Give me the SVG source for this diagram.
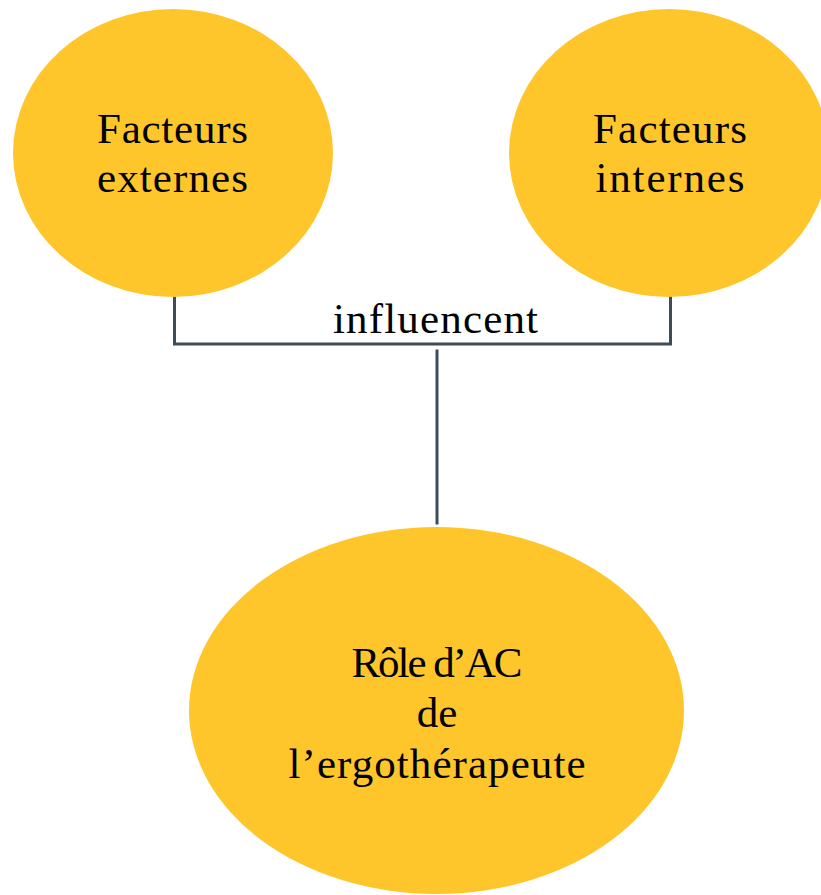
<svg xmlns="http://www.w3.org/2000/svg" width="821" height="895" viewBox="0 0 821 895">
<style>
.node{fill:#fec62b;}
.t{font-family:"Liberation Serif","Times New Roman",serif;font-size:43px;fill:#000;text-anchor:middle;}
.c{fill:none;stroke:#3c4c59;stroke-width:3;stroke-linecap:square;}
</style>
<rect width="821" height="895" fill="#fff"/>
<g id="connectors">
<polyline class="c" points="174.5,298 174.5,344 670.5,344 670.5,297"/>
<line class="c" x1="437" y1="351" x2="437" y2="523"/>
<text class="t" x="435.5" y="333" textLength="205" lengthAdjust="spacing">influencent</text>
</g>
<g id="facteurs-externes">
<ellipse class="node" cx="173" cy="153" rx="160" ry="144"/>
<text class="t" x="172.5" y="143" textLength="151" lengthAdjust="spacing">Facteurs</text>
<text class="t" x="172.5" y="192" textLength="151" lengthAdjust="spacing">externes</text>
</g>
<g id="facteurs-internes">
<ellipse class="node" cx="669" cy="153" rx="160" ry="144"/>
<text class="t" x="670" y="143" textLength="154" lengthAdjust="spacing">Facteurs</text>
<text class="t" x="670" y="192" textLength="149" lengthAdjust="spacing">internes</text>
</g>
<g id="role">
<ellipse class="node" cx="436.5" cy="710.5" rx="247.5" ry="183.5"/>
<text class="t" x="437" y="677" textLength="171" lengthAdjust="spacing">Rôle d’AC</text>
<text class="t" x="437" y="727">de</text>
<text class="t" x="437" y="778" textLength="297" lengthAdjust="spacing">l’ergothérapeute</text>
</g>
</svg>
